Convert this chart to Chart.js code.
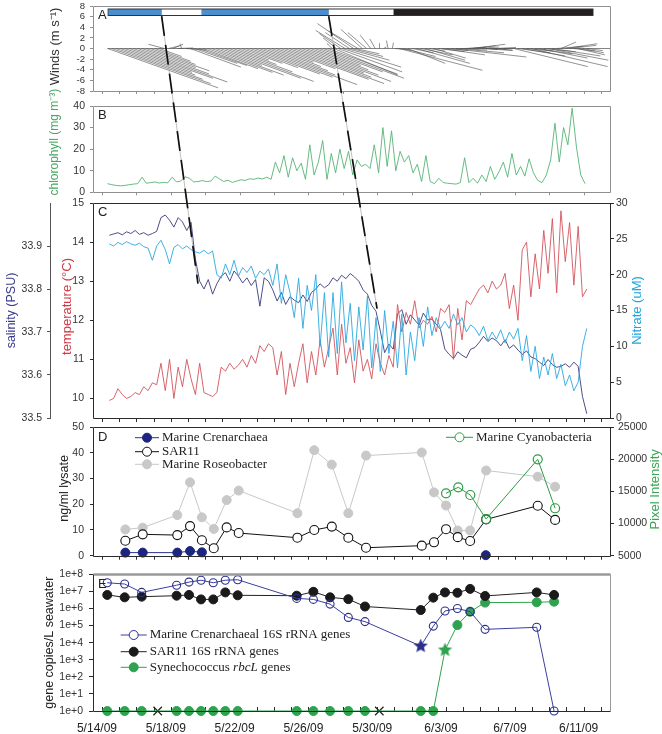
<!DOCTYPE html>
<html>
<head>
<meta charset="utf-8">
<title>Time series panels</title>
<script src="https://cdn.jsdelivr.net/npm/chart.js@4.4.1/dist/chart.umd.min.js"></script>
<style>
    body { margin: 0; background: #fff; }
    #fig { position: relative; width: 662px; height: 734px; overflow: hidden; }
    #fig canvas { position: absolute; left: 0; }
</style>
</head>
<body>
<div id="fig">
    <canvas id="cA" width="662" height="100" style="top:0px"></canvas>
    <canvas id="cB" width="662" height="118" style="top:82px"></canvas>
    <canvas id="cC" width="662" height="230" style="top:194px"></canvas>
    <canvas id="cD" width="662" height="148" style="top:418px"></canvas>
    <canvas id="cE" width="662" height="170" style="top:564px"></canvas>
    <canvas id="overlay" width="662" height="734" style="top:0px"></canvas>
</div>
<script>
// x values are days after 5/14/09

// Panel A: wind sticks (base time, u and v in m/s)
const windT = [
    0.3, 0.55, 0.8, 1.05, 1.3, 1.55, 1.8, 2.05, 2.3, 2.55, 2.8, 3.05, 3.3,
    3.6, 3.85, 4.1, 4.35, 4.6, 4.85, 5.1, 5.35, 5.6,
    5.85, 6.1, 6.35, 6.6, 6.85, 7.1, 7.35, 7.6, 7.85, 8.1, 8.35, 8.6, 8.85, 9.1, 9.35,
    9.6, 9.85, 10.1, 10.35, 10.6, 10.85, 11.1, 11.35, 11.6, 11.85, 12.1, 12.35, 12.6, 12.85, 13.1,
    13.35, 13.45, 13.6, 13.7, 13.85, 13.95, 14.1, 14.2, 14.35, 14.45, 14.6, 14.7, 14.85, 15.1,
    15.35, 15.6, 15.85, 16.1, 16.35, 16.6, 16.85,
    17.0, 17.25, 17.5, 17.75, 18.0, 18.25, 18.5, 18.75, 19.0, 19.25, 19.5, 19.75, 20.0, 20.3,
    20.55, 20.8, 21.05, 21.3, 21.55, 21.8, 22.05, 22.3, 22.55, 22.8, 23.05, 23.3, 23.9, 24.15,
    24.4, 24.65, 24.9, 25.15, 25.4, 25.65, 25.9, 26.15, 26.4, 26.65, 26.9, 27.15, 27.4, 27.65, 27.9, 28.15
];
const windU = [
    20.7, 18.5, 16.2, 14.0, 12.6, 15.7, 17.6, 13.4, 10.1, 11.8, 8.4, 6.7, 4.2,
    -3.0, 2.0, 1.9, 3.0, -0.3, 4.0, 9.5, 8.0, 9.0,
    10.3, 12.2, 13.5, 8.6, 15.1, 16.7, 11.9, 8.1, 5.9, 7.6, 9.7, 13.0, 14.6, 18.4, 13.5,
    11.3, 9.2, 7.0, 10.3, 15.7, 17.8, 14.6, 12.4, 16.7, 13.5, 10.8, 8.6, 11.9, 15.1, 13.0,
    -1.0, 12.0, -2.5, 12.0, -4.0, 11.0, -5.5, 8.0, -4.5, 6.0, -6.8, 4.5, -5.5, -4.0,
    -3.5, -2.0, -1.0, 0.0, 0.5, -0.3, 0.2,
    3, 15.6, 6, 7, 4, 10, 6, 7.5, 3, 6, 5, 8, 4, 14,
    9, 5, 4, 5, 6, 4, 3, 5, 3, 4, 2.5, 2, 13.9, 6,
    8, 5, 14.4, 7, 9, 6, 11.3, 9, 5, 2.8, 6, 5, 4, 5, 4, 3
];
const windV = [
    -7.4, -6.6, -5.8, -5.0, -4.5, -5.6, -6.3, -4.8, -3.6, -4.2, -3.0, -2.4, -1.5,
    0.8, 0.5, 0.8, 0.1, 0.9, -0.3, -3.5, -2.8, -3.2,
    -3.8, -4.5, -5.0, -3.2, -5.6, -6.2, -4.4, -3.0, -2.2, -2.8, -3.6, -4.8, -5.4, -6.8, -5.0,
    -4.2, -3.4, -2.6, -3.8, -5.8, -6.6, -5.4, -4.6, -6.2, -5.0, -4.0, -3.2, -4.4, -5.6, -4.8,
    1.0, -5.0, 2.0, -4.4, 2.8, -3.5, 3.4, -2.2, 3.0, -1.5, 4.7, -1.0, 3.3, 3.6,
    3.0, 2.5, 1.8, 1.0, 0.3, 1.5, 1.1,
    -0.3, -4.1, -1.5, -2.8, -0.8, -2.8, -1.2, -2.2, -0.5, -1.8, -0.6, -1.2, -0.4, -1.6,
    -0.8, -0.3, 0.2, 0.5, 0.8, 0.3, -0.2, -0.4, -0.2, 0.2, -0.3, 0.0, -3.4, -0.8,
    -1.4, -0.5, -3.4, -1.0, -1.8, -0.6, -2.2, -1.4, 0.4, 1.2, 0.9, 0.6, -0.5, -1.2, -0.8, -0.4
];
// periods shown in the bar across the top of panel A
const periodStart = [0.34, 3.44, 5.77, 13.15, 16.93];
const periodEnd = [3.44, 5.77, 13.15, 16.93, 28.5];
const periodKind = ['blue', 'white', 'blue', 'white', 'black'];

// Panel B: chlorophyll, every 6 h from day 0.3
const chlStart = 0.3, chlStep = 0.25;
const chlorophyll = [
    4.0, 3.5, 3.2, 3.0, 3.2, 3.5, 3.8, 4.0, 7.0, 4.2, 4.5, 4.8, 4.3, 4.6, 4.4, 7.0,
    4.8, 5.2, 7.2, 6.5, 4.8, 5.0, 5.4, 5.0, 5.2, 7.5, 6.2, 5.0, 5.6, 4.6, 5.2, 5.8,
    5.5, 6.3, 6.0, 6.6, 6.2, 7.0, 6.0, 14.0, 9.0, 17.0, 7.0, 16.0, 10.0, 13.5, 6.0, 22.0,
    8.0, 14.0, 24.0, 6.0, 18.0, 9.0, 20.0, 11.0, 19.0, 8.0, 15.0, 12.0, 13.0, 11.0, 22.0, 9.0,
    30.0, 12.0, 28.5, 10.0, 19.0, 14.0, 17.0, 9.0, 13.0, 5.0, 17.0, 5.0, 4.0, 6.5, 4.5, 4.2,
    4.0, 3.8, 4.5, 16.0, 4.5, 6.5, 4.2, 8.0, 5.0, 12.0, 6.0, 9.5, 14.0, 7.0, 18.0, 8.0,
    12.0, 7.5, 15.5, 9.0, 5.5, 4.5, 8.0, 15.0, 32.0, 14.0, 30.0, 22.0, 39.0, 21.0, 8.0, 4.0
];

// Panel C: salinity, temperature, nitrate, every 6 h from day 0.4
const cStart = 0.4, cStep = 0.25;
const salinity = [
    33.925, 33.928, 33.931, 33.926, 33.933, 33.929, 33.936, 33.927, 33.931, 33.925, 33.929, 33.934,
    33.966, 33.972, 33.960, 33.944, 33.966, 33.956, 33.936, 33.955, 33.870, 33.818,
    33.800, 33.822, 33.788, 33.812, 33.830, 33.838, 33.818, 33.842,
    33.830, 33.814, 33.826, 33.808, 33.822, 33.760, 33.826, 33.818,
    33.798, 33.772, 33.792, 33.764, 33.782, 33.774, 33.768, 33.786, 33.771, 33.792,
    33.800, 33.812, 33.803, 33.810, 33.826, 33.818, 33.832, 33.824, 33.836, 33.828,
    33.818, 33.798, 33.788, 33.762, 33.748, 33.702, 33.652, 33.672, 33.660,
    33.742, 33.752, 33.718, 33.740, 33.728, 33.716, 33.744, 33.728, 33.730, 33.718, 33.706,
    33.660, 33.648, 33.638, 33.654, 33.646, 33.640, 33.660, 33.664,
    33.676, 33.690, 33.678, 33.686, 33.680, 33.668, 33.682, 33.662, 33.670, 33.658,
    33.648, 33.656, 33.642, 33.638, 33.630, 33.622, 33.636, 33.624, 33.618,
    33.620, 33.626, 33.618, 33.630, 33.620, 33.550, 33.510
];
const temperature = [
    9.95, 10.0, 10.25, 10.1, 10.0, 10.05, 10.15, 10.1, 10.3, 10.2, 10.4, 10.35,
    10.9, 10.2, 11.0, 10.0, 10.8, 10.3, 11.0, 10.5, 10.1, 10.9, 10.15, 10.1, 10.05, 10.15,
    10.8, 10.7, 10.9, 10.75, 10.85, 11.0, 10.8, 11.1, 10.9, 11.35, 11.2, 11.4, 11.3,
    10.6, 11.2, 10.1, 10.9, 10.3, 10.9, 11.4, 10.4, 11.2, 10.6, 11.5, 10.8, 11.3,
    11.8, 10.6, 11.9, 10.9, 11.3, 10.4, 11.5, 10.7, 11.0, 10.5, 11.4, 10.9, 10.6, 11.1, 10.8,
    12.4, 11.7, 12.2, 11.9, 12.5, 11.8, 12.0, 11.9, 12.1, 11.7, 12.3,
    12.2, 12.4, 11.0, 12.3, 11.5, 12.5, 12.4, 12.6, 12.8, 12.9, 12.7, 13.0, 12.8, 12.9,
    13.2, 12.3, 12.9, 12.0, 13.8, 14.0, 12.6, 13.7, 12.8,
    14.3, 13.2, 14.6, 12.7, 14.8, 13.5, 14.5, 12.9, 14.4, 12.6, 12.8
];
const nitrate = [
    24.3, 24.0, 24.5, 24.2, 24.6, 24.3, 24.1, 24.4, 23.9, 23.7, 22.0, 24.0,
    24.8, 23.5, 21.5, 23.8, 24.2, 23.6, 24.0, 23.5, 23.2, 23.0, 23.4, 22.9, 23.3, 20.0,
    19.5, 21.5, 20.0, 22.0, 19.8, 21.0, 20.3, 21.2, 19.5, 20.5,
    20.0, 20.8, 18.5, 21.5, 16.0, 20.0, 17.5, 14.0, 19.5, 12.5, 18.5, 15.0,
    20.0, 10.0, 17.5, 8.5, 17.5, 9.0, 19.0, 10.5, 16.0, 8.0, 15.5, 9.5, 17.0, 7.0, 14.0,
    6.5, 15.0, 9.0, 13.5, 7.0, 14.5, 6.0, 12.0, 8.0, 14.0, 10.0, 15.5, 11.5, 14.0, 12.5,
    13.5, 12.5, 14.5, 13.0, 14.0, 12.0, 13.0, 12.5, 11.5, 12.8, 10.8, 12.0, 11.0, 12.3,
    10.5, 12.0, 11.0, 12.5, 8.0, 11.5, 6.5, 10.0, 5.5, 8.5, 6.0, 9.0, 5.5, 7.5,
    4.5, 6.0, 3.8, 5.0, 10.0, 12.5
];

// Panel D: lysate concentrations (ng/ml) and pixel intensity
const dDays = [1.33, 2.34, 4.35, 5.09, 5.78, 6.47, 7.22, 7.92, 11.33, 12.31, 13.33, 14.29, 15.32,
    18.56, 19.27, 19.97, 20.65, 21.37, 22.3, 25.3, 26.31];
const dSar11 = [5.8, 8.3, 8.0, 11.5, 6.0, 2.9, 11.0, 8.8, 7.0, 10.0, 11.3, 7.0, 3.1,
    3.9, 5.2, 10.3, 7.2, 5.7, 14.1, 19.4, 13.9];
const dRoseo = [10.2, 10.9, 15.8, 28.5, 14.9, 10.4, 21.6, 25.3, 16.5, 41.0, 35.4, 16.5, 38.9,
    40.1, 24.6, 19.5, 9.8, 9.8, 33.1, 30.7, 26.8];
const dCrenDays = [1.33, 2.34, 4.35, 5.09, 5.78, 22.28];
const dCren = [1.2, 1.2, 1.2, 1.8, 1.3, 0.2];
const dCyanoDays = [19.97, 20.68, 21.38, 22.3, 25.3, 26.31];
const dCyano = [14700, 15630, 14430, 10700, 19980, 12370];

// Panel E: gene copies per litre
const eDays = [0.28, 1.29, 2.28, 4.31, 5.03, 5.73, 6.44, 7.14, 7.86, 11.29, 12.26, 13.23,
    14.29, 15.26, 18.5, 19.23, 19.91, 20.63, 21.37, 22.24, 25.24, 26.25];
const eCren = [3.2e7, 2.7e7, 8.7e6, 2.3e7, 3.5e7, 4.5e7, 3.2e7, 4.5e7, 4.8e7, 3.9e6, 3.4e6, 1.8e6,
    3.0e5, 1.7e5, 6.3e3, 9.3e4, 7.1e5, 1.0e6, 6.5e5, 6.0e4, 7.9e4, 1];
const eSar11 = [6.2e6, 4.5e6, 4.9e6, 5.6e6, 6.2e6, 3.4e6, 3.4e6, 8.7e6, 5.9e6, 5.6e6, 9.5e6, 4.5e6,
    3.5e6, 1.3e6, 8.1e5, 4.3e6, 8.7e6, 8.3e6, 1.4e7, 5.4e6, 8.7e6, 6.2e6];
const eSyn = [1, 1, 1, 1, 1, 1, 1, 1, 1, 1, 1, 1, 1, 1, 1, 1, 3.7e3, 1.07e5, 6.5e5, 2.2e6, 2.3e6, 2.5e6];
const eCrenStar = 14, eSynStar = 16;
const eMissDays = [3.21, 16.09];

// tick labels
const windTicks = [-8, -6, -4, -2, 0, 2, 4, 6, 8];
const chlTicks = [0, 10, 20, 30, 40];
const salTicks = [33.5, 33.6, 33.7, 33.8, 33.9];
const tempTicks = [10, 11, 12, 13, 14, 15];
const nitTicks = [0, 5, 10, 15, 20, 25, 30];
const lysTicks = [0, 10, 20, 30, 40, 50];
const pixTicks = [5000, 10000, 15000, 20000, 25000];
const geneTicks = [1, 1e1, 1e2, 1e3, 1e4, 1e5, 1e6, 1e7, 1e8];

const SANS = "'Liberation Sans', Arial, sans-serif";
const SERIF = "'Liberation Serif', 'Times New Roman', serif";
const X_MIN = -0.55, X_MAX = 29.5;
const GRAY = '#8f8f8f', DARK = '#2b2b2b';

Chart.defaults.font.family = SANS;
Chart.defaults.font.size = 10;
Chart.defaults.color = '#333';

function dateLabel(d) {
    const dt = new Date(2009, 4, 14 + d);
    return (dt.getMonth() + 1) + '/' + dt.getDate() + '/09';
}

function pts(xs, ys) {
    return xs.map((x, i) => ({ x: x, y: ys[i] }));
}

function xAxis(o) {
    return {
        type: 'linear', min: X_MIN, max: X_MAX,
        afterBuildTicks: s => {
            const t = [];
            for (let d = 0; d <= 29; d += o.step) t.push({ value: d });
            s.ticks = t;
        },
        afterFit: s => { s.height = o.height; s.paddingLeft = 0; s.paddingRight = 0; },
        grid: { drawOnChartArea: false, drawTicks: true, tickLength: o.tick, tickColor: o.color },
        border: { display: false },
        ticks: o.labels ? {
            autoSkip: false, maxRotation: 0, minRotation: 0, padding: o.pad, labelOffset: -5.5,
            font: { size: 12 }, color: '#222',
            callback: v => (v % 4 === 0 ? dateLabel(v) : '')
        } : { display: false }
    };
}

function yAxis(o) {
    return {
        type: o.type || 'linear', position: o.position || 'left', weight: o.weight || 0,
        min: o.min, max: o.max,
        afterBuildTicks: s => { s.ticks = o.ticks.map(v => ({ value: v })); },
        afterFit: s => { s.width = o.width; s.paddingTop = 0; s.paddingBottom = 0; },
        grid: { drawOnChartArea: false, tickLength: o.tick, tickColor: o.color },
        border: o.border ? { display: true, color: o.border, width: 1 } : { display: false },
        ticks: { autoSkip: false, padding: o.pad, font: { size: o.font || 10.5 }, color: '#333', callback: o.fmt || (v => v) }
    };
}

// box around the plot area, one colour per side
const framePlugin = {
    id: 'frame',
    afterDraw(chart, args, o) {
        const a = chart.chartArea, ctx = chart.ctx;
        const side = (c, w, x1, y1, x2, y2) => {
            ctx.strokeStyle = c; ctx.lineWidth = w;
            ctx.beginPath(); ctx.moveTo(x1, y1); ctx.lineTo(x2, y2); ctx.stroke();
        };
        const l = Math.round(a.left) + 0.5, r = Math.round(a.right) + 0.5;
        const t = Math.round(a.top) + 0.5, b = Math.round(a.bottom) + 0.5;
        ctx.save();
        side(o.top, o.topWidth || 1, l, t, r, t);
        side(o.right, 1, r, t, r, b);
        side(o.bottom, 1, l, b, r, b);
        side(o.left, 1, l, t, l, b);
        ctx.restore();
    }
};

// axis titles, panel letter and hand placed legends
const decoPlugin = {
    id: 'deco',
    afterDraw(chart, args, o) {
        const ctx = chart.ctx, a = chart.chartArea;
        ctx.save();
        (o.titles || []).forEach(t => {
            const sc = chart.scales[t.scale];
            ctx.save();
            ctx.translate(t.x, (sc.top + sc.bottom) / 2 + (t.dy || 0));
            ctx.rotate(-Math.PI / 2);
            ctx.font = t.size + 'px ' + SANS;
            ctx.fillStyle = t.color;
            ctx.textAlign = 'center';
            ctx.textBaseline = 'middle';
            ctx.fillText(t.text, 0, 0);
            ctx.restore();
        });
        if (o.letter) {
            ctx.font = '13px ' + SANS;
            ctx.fillStyle = '#222';
            ctx.textAlign = 'left';
            ctx.textBaseline = 'middle';
            ctx.fillText(o.letter, a.left + 5, a.top + o.letterDy);
        }
        (o.legend || []).forEach(it => {
            const ds = chart.data.datasets[it.ds];
            const mx = (it.x1 + it.x2) / 2;
            ctx.strokeStyle = ds.borderColor; ctx.lineWidth = 1;
            ctx.beginPath(); ctx.moveTo(it.x1, it.y); ctx.lineTo(it.x2, it.y); ctx.stroke();
            ctx.beginPath(); ctx.arc(mx, it.y, 4.5, 0, Math.PI * 2);
            ctx.fillStyle = it.fill; ctx.fill();
            ctx.strokeStyle = ds.pointBorderColor; ctx.stroke();
            let x = it.x2 + 3;
            ctx.fillStyle = '#222';
            ctx.textAlign = 'left';
            ctx.textBaseline = 'middle';
            it.parts.forEach(p => {
                ctx.font = (p.italic ? 'italic ' : '') + '13px ' + SERIF;
                ctx.fillText(p.text, x, it.y);
                x += ctx.measureText(p.text).width;
            });
        });
        ctx.restore();
    }
};

function baseOptions(pad) {
    return {
        responsive: false, animation: false, events: [],
        layout: { padding: pad },
        elements: { line: { tension: 0 }, point: { radius: 0 } }
    };
}

function starImage(color, size) {
    const c = document.createElement('canvas');
    c.width = c.height = size;
    const g = c.getContext('2d');
    const r = size / 2, ri = r * 0.45;
    g.beginPath();
    for (let k = 0; k < 10; k++) {
        const ang = -Math.PI / 2 + k * Math.PI / 5, rr = k % 2 ? ri : r;
        g.lineTo(r + rr * Math.cos(ang), r + rr * Math.sin(ang));
    }
    g.closePath();
    g.fillStyle = color;
    g.fill();
    return c;
}

// ---------- Panel A ----------
const STICK_DAYS = 0.31; // x extent in days per m/s, keeps sticks isotropic
const windPts = [];
windT.forEach((t, i) => {
    windPts.push({ x: t, y: 0 }, { x: t + windU[i] * STICK_DAYS, y: windV[i] }, { x: t, y: null });
});
const periodColor = { blue: '#4b8fd0', white: '#ffffff', black: '#231f20' };
const barY = 6.82;
const aSets = [{
    data: [{ x: periodStart[0] - 0.04, y: barY }, { x: periodEnd[periodEnd.length - 1] + 0.04, y: barY }],
    borderColor: '#333', borderWidth: 7.6
}];
periodStart.forEach((s, i) => {
    aSets.push({ data: [{ x: s, y: barY }, { x: periodEnd[i], y: barY }], borderColor: periodColor[periodKind[i]], borderWidth: 5.6 });
});
aSets.push({ data: [{ x: windT[0], y: 0 }, { x: X_MAX, y: 0 }], borderColor: '#666', borderWidth: 0.8 });
aSets.push({ data: windPts, borderColor: '#4a4a4a', borderWidth: 0.6, spanGaps: false });

const chartA = new Chart(document.getElementById('cA'), {
    type: 'line',
    data: { datasets: aSets.reverse() },
    options: Object.assign(baseOptions({ top: 6, right: 52, left: 0, bottom: 0 }), {
        scales: {
            x: xAxis({ step: 1, height: 9, tick: 3, color: GRAY }),
            y: yAxis({ min: -8, max: 8, ticks: windTicks, width: 93, tick: 3, pad: 5, color: GRAY, font: 9.5 })
        },
        plugins: {
            legend: { display: false }, tooltip: { enabled: false },
            frame: { top: GRAY, right: GRAY, bottom: GRAY, left: GRAY },
            deco: { letter: 'A', letterDy: 9, titles: [{ text: 'Winds (m s\u207B\u00B9)', x: 55, scale: 'y', color: '#333', size: 13, dy: -2 }] }
        }
    }),
    plugins: [framePlugin, decoPlugin]
});

// ---------- Panel B ----------
const chlDays = chlorophyll.map((v, i) => chlStart + i * chlStep);
const chartB = new Chart(document.getElementById('cB'), {
    type: 'line',
    data: { datasets: [{ data: pts(chlDays, chlorophyll), borderColor: '#55b474', borderWidth: 0.9 }] },
    options: Object.assign(baseOptions({ top: 24, right: 52, left: 0, bottom: 0 }), {
        scales: {
            x: xAxis({ step: 2, height: 7.7, tick: 3, color: GRAY }),
            y: yAxis({ min: 0, max: 40, ticks: chlTicks, width: 93, tick: 3, pad: 5, color: GRAY })
        },
        plugins: {
            legend: { display: false }, tooltip: { enabled: false },
            frame: { top: GRAY, right: GRAY, bottom: GRAY, left: GRAY },
            deco: { letter: 'B', letterDy: 9, titles: [{ text: 'chlorophyll (mg m\u207B\u00B3)', x: 55, scale: 'y', color: '#45a862', size: 12, dy: -7 }] }
        }
    }),
    plugins: [framePlugin, decoPlugin]
});

// ---------- Panel C ----------
const cDays = salinity.map((v, i) => cStart + i * cStep);
const chartC = new Chart(document.getElementById('cC'), {
    type: 'line',
    data: {
        datasets: [
            { data: pts(cDays, nitrate), yAxisID: 'yN', borderColor: '#2aa8e0', borderWidth: 0.9 },
            { data: pts(cDays, temperature), yAxisID: 'yT', borderColor: '#d2545c', borderWidth: 0.9 },
            { data: pts(cDays, salinity), yAxisID: 'ySal', borderColor: '#3b3a7d', borderWidth: 0.9 }
        ]
    },
    options: Object.assign(baseOptions({ top: 9, right: 0, left: 0, bottom: 0 }), {
        scales: {
            x: xAxis({ step: 1, height: 6, tick: 4, color: DARK }),
            yT: yAxis({ min: 9.5, max: 15, ticks: tempTicks, width: 43, tick: 3, pad: 6, color: DARK }),
            ySal: yAxis({ min: 33.5, max: 34.0, ticks: salTicks, width: 50, tick: 3, pad: 5, color: '#555',
                weight: 1, border: '#555', fmt: v => v.toFixed(1) }),
            yN: yAxis({ position: 'right', min: 0, max: 30, ticks: nitTicks, width: 52, tick: 4, pad: 2, color: DARK })
        },
        plugins: {
            legend: { display: false }, tooltip: { enabled: false },
            frame: { top: DARK, right: DARK, bottom: DARK, left: DARK },
            deco: {
                letter: 'C', letterDy: 9, titles: [
                    { text: 'salinity (PSU)', x: 12, scale: 'ySal', color: '#3c3c8e', size: 12.5 },
                    { text: 'temperature (\u00B0C)', x: 67, scale: 'yT', color: '#cf3a44', size: 13, dy: -4 },
                    { text: 'Nitrate (uM)', x: 637, scale: 'yN', color: '#1fa6df', size: 13 }
                ]
            }
        }
    }),
    plugins: [framePlugin, decoPlugin]
});

// ---------- Panel D ----------
const chartD = new Chart(document.getElementById('cD'), {
    type: 'line',
    data: {
        datasets: [
            { data: pts(dCrenDays, dCren), borderColor: '#2a3390', borderWidth: 1, spanGaps: 5,
              pointRadius: 4.5, pointBackgroundColor: '#1c2580', pointBorderColor: '#1c2580', clip: false },
            { data: pts(dCyanoDays, dCyano), yAxisID: 'y2', borderColor: '#2e9b45', borderWidth: 1,
              pointRadius: 4.5, pointBackgroundColor: 'rgba(0,0,0,0)', pointBorderColor: '#2e9b45', pointBorderWidth: 1.2, clip: false },
            { data: pts(dDays, dSar11), borderColor: '#111', borderWidth: 1,
              pointRadius: 4.5, pointBackgroundColor: '#fff', pointBorderColor: '#111', pointBorderWidth: 1.1, clip: false },
            { data: pts(dDays, dRoseo), borderColor: '#c8c8c8', borderWidth: 1,
              pointRadius: 4.5, pointBackgroundColor: '#c8c8c8', pointBorderColor: '#c8c8c8', clip: false }
        ]
    },
    options: Object.assign(baseOptions({ top: 9, right: 0, left: 0, bottom: 0 }), {
        scales: {
            x: xAxis({ step: 1, height: 10.3, tick: 4, color: DARK }),
            y: yAxis({ min: 0, max: 50, ticks: lysTicks, width: 93, tick: 3, pad: 6, color: DARK }),
            y2: yAxis({ position: 'right', min: 5000, max: 25000, ticks: pixTicks, width: 52, tick: 4, pad: 4, color: DARK })
        },
        plugins: {
            legend: { display: false }, tooltip: { enabled: false },
            frame: { top: DARK, right: DARK, bottom: DARK, left: DARK },
            deco: {
                letter: 'D', letterDy: 10, titles: [
                    { text: 'ng/ml lysate', x: 65, scale: 'y', color: '#222', size: 12.5, dy: -3 },
                    { text: 'Pixel Intensity', x: 655, scale: 'y2', color: '#3aa655', size: 13, dy: -2 }
                ],
                legend: [
                    { ds: 0, x1: 135, x2: 159, y: 19.7, fill: '#1c2580', parts: [{ text: 'Marine Crenarchaea' }] },
                    { ds: 2, x1: 135, x2: 159, y: 33.7, fill: '#fff', parts: [{ text: 'SAR11' }] },
                    { ds: 3, x1: 135, x2: 159, y: 46.3, fill: '#c8c8c8', parts: [{ text: 'Marine Roseobacter' }] },
                    { ds: 1, x1: 446, x2: 473, y: 19.3, fill: '#fff', parts: [{ text: 'Marine Cyanobacteria' }] }
                ]
            }
        }
    }),
    plugins: [framePlugin, decoPlugin]
});

// ---------- Panel E ----------
const starNavy = starImage('#2b2f8c', 15);
const starGreen = starImage('#2ea24f', 15);
const chartE = new Chart(document.getElementById('cE'), {
    type: 'line',
    data: {
        datasets: [
            { data: pts(eDays, eCren), borderColor: '#3b3f9c', borderWidth: 1, pointRadius: 4,
              pointStyle: c => (c.dataIndex === eCrenStar ? starNavy : 'circle'),
              pointBackgroundColor: 'rgba(0,0,0,0)', pointBorderColor: '#2b2f8c', pointBorderWidth: 1.1, clip: false },
            { data: pts(eDays, eSar11), borderColor: '#222', borderWidth: 1, pointRadius: 4.5,
              pointBackgroundColor: '#1a1a1a', pointBorderColor: '#1a1a1a', clip: false },
            { data: pts(eDays, eSyn), borderColor: '#2ea24f', borderWidth: 1, pointRadius: 4.5,
              pointStyle: c => (c.dataIndex === eSynStar ? starGreen : 'circle'),
              pointBackgroundColor: '#2ea24f', pointBorderColor: '#2ea24f', clip: false },
            { data: eMissDays.map(d => ({ x: d, y: 1 })), showLine: false, pointStyle: 'crossRot',
              pointRadius: 6, pointBorderColor: '#222', pointBorderWidth: 1.2, clip: false }
        ]
    },
    options: Object.assign(baseOptions({ top: 10.3, right: 52, left: 0, bottom: 0 }), {
        scales: {
            x: xAxis({ step: 1, height: 23, tick: -4, color: DARK, labels: true, pad: 14 }),
            y: yAxis({ type: 'logarithmic', min: 1, max: 1e8, ticks: geneTicks, width: 93, tick: 4, pad: 6, color: DARK,
                fmt: v => '1e+' + Math.round(Math.log10(v)) })
        },
        plugins: {
            legend: { display: false }, tooltip: { enabled: false },
            frame: { top: '#9a9a9a', topWidth: 2.5, right: '#9a9a9a', bottom: DARK, left: DARK },
            deco: {
                letter: 'E', letterDy: 10, titles: [
                    { text: 'gene copies/L seawater', x: 50, scale: 'y', color: '#222', size: 12.5 }
                ],
                legend: [
                    { ds: 0, x1: 120.7, x2: 146.7, y: 71, fill: '#fff', parts: [{ text: 'Marine Crenarchaeal 16S rRNA genes' }] },
                    { ds: 1, x1: 120.7, x2: 146.7, y: 87.7, fill: '#1a1a1a', parts: [{ text: 'SAR11 16S rRNA genes' }] },
                    { ds: 2, x1: 120.7, x2: 146.7, y: 103.3, fill: '#2ea24f',
                      parts: [{ text: 'Synechococcus ' }, { text: 'rbcL', italic: true }, { text: ' genes' }] }
                ]
            }
        }
    }),
    plugins: [framePlugin, decoPlugin]
});

// dashed links from the period bar in A down to the front seen in C
const links = [
    { from: [chartA, 'y', 3.44, 6.1], to: [chartC, 'yT', 5.55, 12.94] },
    { from: [chartA, 'y', 13.15, 6.1], to: [chartC, 'yT', 15.96, 12.3] }
];
function pagePoint(p) {
    const chart = p[0];
    return [chart.scales.x.getPixelForValue(p[2]), chart.canvas.offsetTop + chart.scales[p[1]].getPixelForValue(p[3])];
}
const octx = document.getElementById('overlay').getContext('2d');
links.forEach(l => {
    const a = pagePoint(l.from), b = pagePoint(l.to);
    octx.strokeStyle = '#b0b0b0'; octx.lineWidth = 0.8; octx.setLineDash([]);
    octx.beginPath(); octx.moveTo(a[0], a[1]); octx.lineTo(b[0], b[1]); octx.stroke();
    octx.strokeStyle = '#111'; octx.lineWidth = 1.7; octx.setLineDash([20, 9]);
    octx.beginPath(); octx.moveTo(a[0], a[1]); octx.lineTo(b[0], b[1]); octx.stroke();
});
</script>
</body>
</html>
